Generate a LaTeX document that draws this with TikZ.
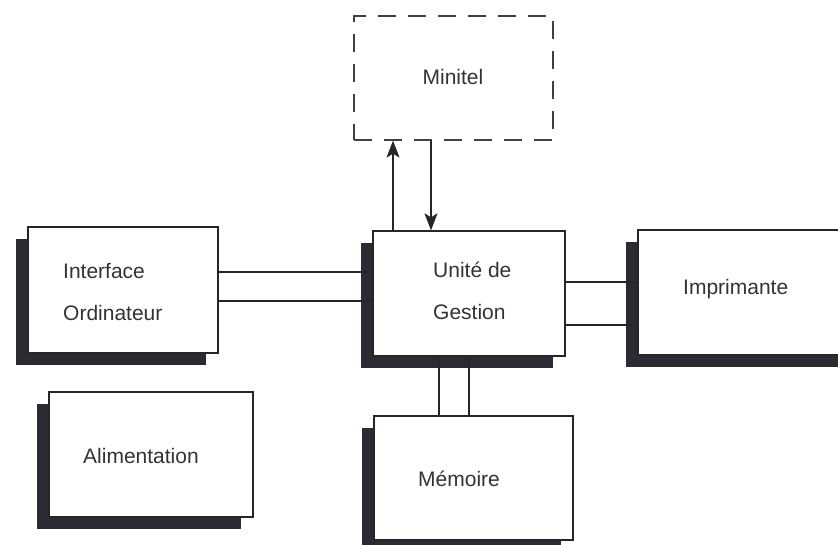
\documentclass[tikz,border=0pt]{standalone}
\usepackage{fontspec}
\setmainfont{Liberation Sans}
\usetikzlibrary{shadows,arrows.meta}
\definecolor{shadowc}{HTML}{2B2B33}
\definecolor{txtc}{HTML}{333333}
\tikzset{
  box/.style={draw=black!85, line width=1.3pt, fill=white, inner sep=0pt, rectangle},
  shadowed/.style={drop shadow={shadow xshift=-12pt, shadow yshift=-12pt, fill=shadowc, opacity=1}},
  dashbox/.style={draw=black!75, line width=1.3pt, fill=white, inner sep=0pt, dash pattern=on 18pt off 12pt},
  lbl/.style={inner sep=0pt, text=txtc, align=left, font=\fontsize{21pt}{42pt}\selectfont},
  wire/.style={draw=black!85, line width=1.2pt},
  arr/.style={draw=black!85, line width=1.2pt, -{Stealth[length=17pt, width=13pt, inset=4pt]}}
}
\begin{document}
\begin{tikzpicture}[x=1pt, y=-1pt]
\useasboundingbox (0,0) rectangle (838,544);
\clip (0,0) rectangle (838,544);
\fill[white] (0,0) rectangle (838,544);

% boxes
\node[dashbox, minimum width=199pt, minimum height=124pt] (mi) at (453.5,78) {};
\node[box, shadowed, minimum width=190pt, minimum height=126pt] (io) at (123,290) {};
\node[box, shadowed, minimum width=192pt, minimum height=125pt] (gu) at (469,293.5) {};
\node[box, shadowed, minimum width=212pt, minimum height=125pt] (im) at (744,292.5) {};
\node[box, shadowed, minimum width=204pt, minimum height=125pt] (al) at (151,454.5) {};
\node[box, shadowed, minimum width=199pt, minimum height=124pt] (me) at (473.5,478) {};

% labels
\node[lbl] (mit) at (453,77) {Minitel};
\node[lbl, anchor=west] (iot) at (63,292) {Interface\\Ordinateur};
\node[lbl, anchor=west] (gut) at (433,291) {Unité de\\Gestion};
\node[lbl, anchor=west] (imt) at (683,289) {Imprimante};
\node[lbl, anchor=west] (alt) at (83,456) {Alimentation};
\node[lbl, anchor=west] (met) at (418,479) {Mémoire};

% helper coordinates
\coordinate (ya) at (0,272);
\coordinate (yb) at (0,301);
\coordinate (yc) at (0,282);
\coordinate (yd) at (0,325);
\coordinate (xa) at (393,0);
\coordinate (xb) at (431,0);
\coordinate (xc) at (439,0);
\coordinate (xd) at (469,0);

% connectors
\draw[wire] (io.east |- ya) -- (gu.west |- ya);
\draw[wire] (io.east |- yb) -- (gu.west |- yb);
\draw[wire] (gu.east |- yc) -- (im.west |- yc);
\draw[wire] (gu.east |- yd) -- (im.west |- yd);
\draw[wire] (xc |- gu.south) -- (xc |- me.north);
\draw[wire] (xd |- gu.south) -- (xd |- me.north);
\draw[arr] (xa |- gu.north) -- (xa |- mi.south);
\draw[arr] (xb |- mi.south) -- (xb |- gu.north);
\end{tikzpicture}
\end{document}
